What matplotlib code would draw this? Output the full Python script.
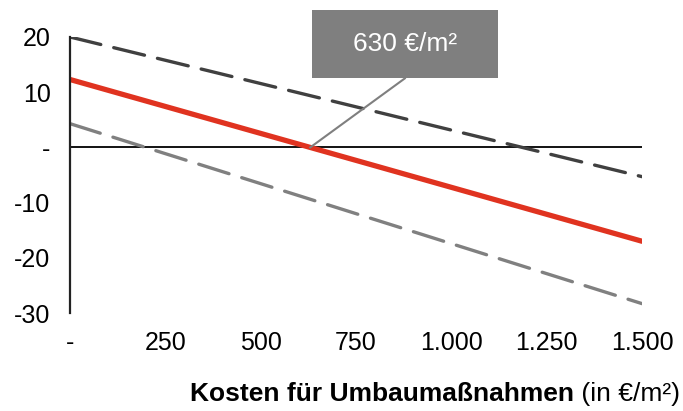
import matplotlib.pyplot as plt
from matplotlib.patches import Rectangle
from matplotlib.ticker import FuncFormatter

plt.rcParams['font.family'] = ['Liberation Sans', 'DejaVu Sans']

kosten = [0, 1500]
oben = [20, -5.3]      # dunkler gestrichelt
mitte = [12.3, -17.0]  # rot
unten = [4.3, -28.3]   # hell gestrichelt
break_even = 630
x_ticks = [0, 250, 500, 750, 1000, 1250, 1500]
y_ticks = [-30, -20, -10, 0, 10, 20]


def fmt(v, pos):
    if v == 0:
        return '-'
    return f'{int(v):,}'.replace(',', '.')


fig = plt.figure(figsize=(6.83, 4.11), dpi=100)
ax = fig.add_axes([0.1025, 0.2384, 0.8375, 0.6716])

ax.axhline(0, color='black', lw=1.3, zorder=1)
ax.plot(kosten, oben, color='#404040', lw=2.4, dashes=(9.5, 4), dash_capstyle='round')
ax.plot(kosten, unten, color='#808080', lw=2.4, dashes=(9.5, 4), dash_capstyle='round')
ax.plot(kosten, mitte, color='#e03320', lw=3.8, solid_capstyle='round')

ax.set_xlim(0, 1500)
ax.set_ylim(-30, 20)
ax.set_xticks(x_ticks)
ax.set_yticks(y_ticks)
ax.xaxis.set_major_formatter(FuncFormatter(fmt))
ax.yaxis.set_major_formatter(FuncFormatter(fmt))
ax.tick_params(length=0, labelsize=18, colors='black')
ax.tick_params(axis='x', pad=13)
ax.tick_params(axis='y', pad=14)
for s in ['top', 'right', 'bottom']:
    ax.spines[s].set_visible(False)
ax.spines['left'].set_linewidth(1.6)
ax.spines['left'].set_color('#222222')

# Beschriftung Break-even
ax.add_patch(Rectangle((635, 12.5), 487, 12.4, fc='#7f7f7f', ec='none', clip_on=False, zorder=3))
ax.plot([break_even, 878], [0, 12.5], color='#7f7f7f', lw=1.5, clip_on=False, zorder=2)
ax.text(878, 18.7, f'{break_even} €/m²', ha='center', va='center', color='white',
        fontsize=19, zorder=4)

t2 = fig.text(0.996, 0.012, ' (in €/m²)', ha='right', va='bottom', fontsize=19)
ax.annotate('Kosten für Umbaumaßnahmen', xy=(0, 0), xycoords=t2, ha='right', va='bottom',
            fontsize=19, weight='bold')

fig.savefig('out.png', dpi=100)
